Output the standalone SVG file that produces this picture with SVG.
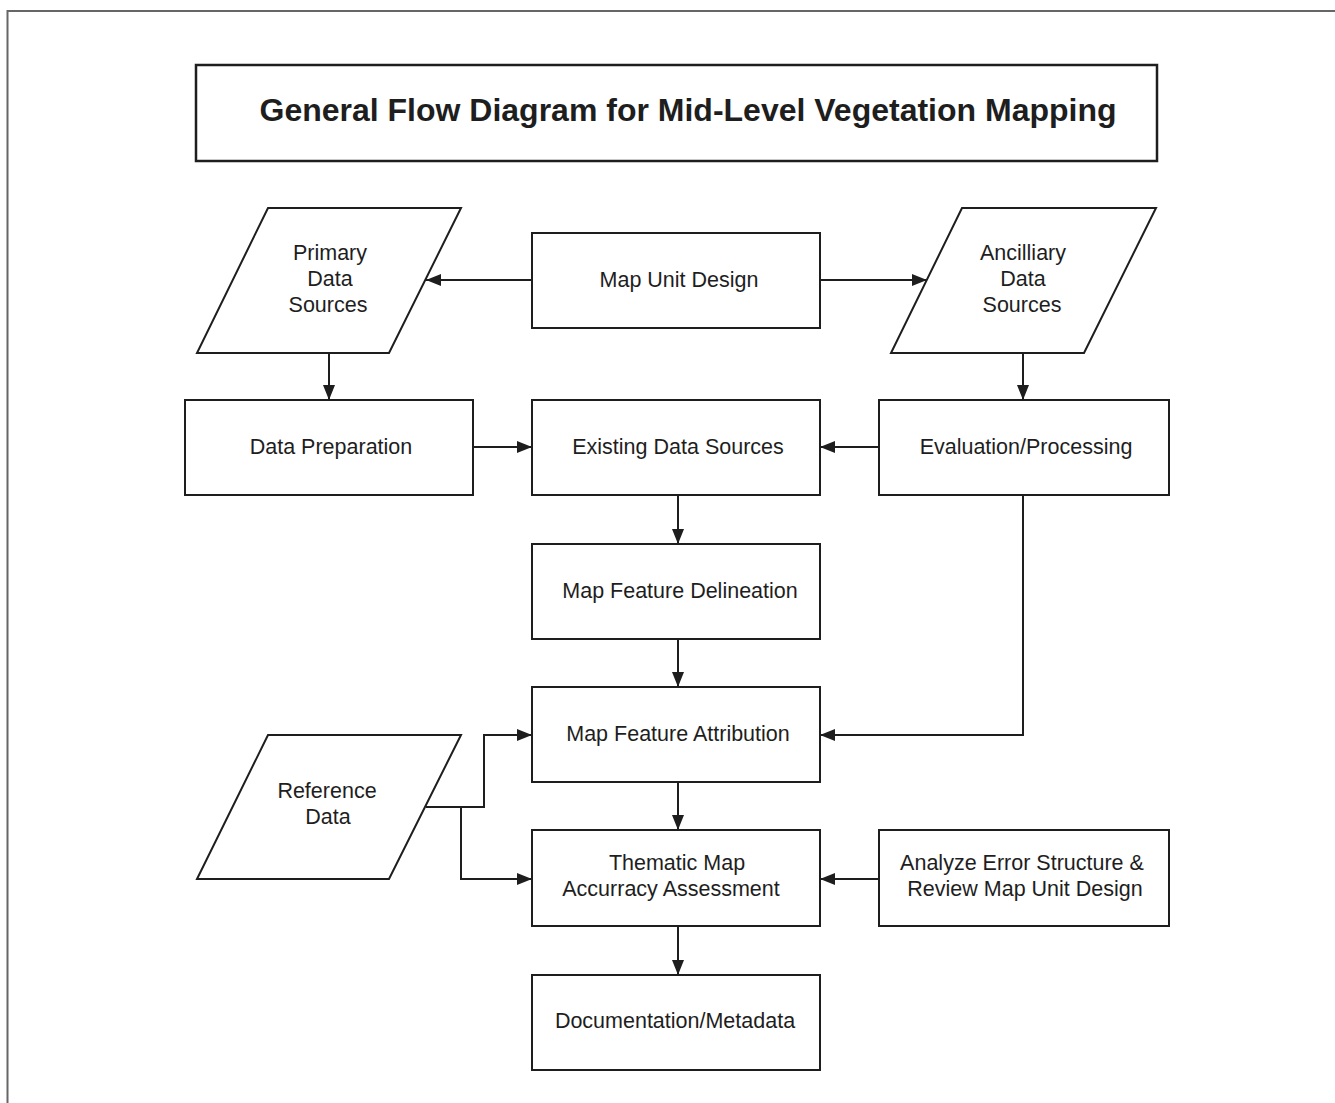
<svg xmlns="http://www.w3.org/2000/svg" width="1335" height="1103" viewBox="0 0 1335 1103">
  <style>
    .box { fill: #fff; stroke: #1e1e1e; stroke-width: 2; }
    .title-box { fill: #fff; stroke: #1e1e1e; stroke-width: 2.5; }
    .lbl { font-family: "Liberation Sans", Arial, sans-serif; font-size: 21.5px; fill: #1e1e1e; text-anchor: middle; }
    .title { font-family: "Liberation Sans", Arial, sans-serif; font-size: 32px; font-weight: bold; fill: #1e1e1e; text-anchor: middle; }
    .conn { fill: none; stroke: #1e1e1e; stroke-width: 2; marker-end: url(#arrow); }
    .plain { fill: none; stroke: #1e1e1e; stroke-width: 2; }
  </style>
  <defs>
    <marker id="arrow" markerUnits="userSpaceOnUse" markerWidth="16" markerHeight="12" refX="15" refY="6" orient="auto">
      <path d="M0,0 L15,6 L0,12 z" fill="#1e1e1e"/>
    </marker>
  </defs>

  <rect width="1335" height="1103" fill="#fff"/>

  <!-- page frame -->
  <path d="M7.5,1103 L7.5,11 L1335,11" fill="none" stroke="#666" stroke-width="2"/>

  <g id="title">
    <rect class="title-box" x="196" y="65" width="961" height="96"/>
    <text class="title" x="688" y="121">General Flow Diagram for Mid-Level Vegetation Mapping</text>
  </g>

  <g id="connectors">
    <path class="conn" d="M532,280 L426,280"/>
    <path class="conn" d="M820,280 L927,280"/>
    <path class="conn" d="M329,353 L329,400"/>
    <path class="conn" d="M1023,353 L1023,400"/>
    <path class="conn" d="M473,447 L532,447"/>
    <path class="conn" d="M879,447 L820,447"/>
    <path class="conn" d="M678,495 L678,544"/>
    <path class="conn" d="M678,639 L678,687"/>
    <path class="conn" d="M1023,495 L1023,735 L820,735"/>
    <path class="conn" d="M426,807 L484,807 L484,735 L532,735"/>
    <path class="conn" d="M461,807 L461,879 L532,879"/>
    <path class="conn" d="M678,782 L678,830"/>
    <path class="conn" d="M879,879 L820,879"/>
    <path class="conn" d="M678,926 L678,975"/>
  </g>

  <g id="primary-data-sources">
    <polygon class="box" points="268,208 461,208 389,353 197,353"/>
    <text class="lbl" x="330" y="260">Primary</text>
    <text class="lbl" x="330" y="286">Data</text>
    <text class="lbl" x="328" y="312">Sources</text>
  </g>

  <g id="map-unit-design">
    <rect class="box" x="532" y="233" width="288" height="95"/>
    <text class="lbl" x="679" y="287">Map Unit Design</text>
  </g>

  <g id="ancilliary-data-sources">
    <polygon class="box" points="962,208 1156,208 1084,353 891,353"/>
    <text class="lbl" x="1023" y="260">Ancilliary</text>
    <text class="lbl" x="1023" y="286">Data</text>
    <text class="lbl" x="1022" y="312">Sources</text>
  </g>

  <g id="data-preparation">
    <rect class="box" x="185" y="400" width="288" height="95"/>
    <text class="lbl" x="331" y="454">Data Preparation</text>
  </g>

  <g id="existing-data-sources">
    <rect class="box" x="532" y="400" width="288" height="95"/>
    <text class="lbl" x="678" y="454">Existing Data Sources</text>
  </g>

  <g id="evaluation-processing">
    <rect class="box" x="879" y="400" width="290" height="95"/>
    <text class="lbl" x="1026" y="454">Evaluation/Processing</text>
  </g>

  <g id="map-feature-delineation">
    <rect class="box" x="532" y="544" width="288" height="95"/>
    <text class="lbl" x="680" y="598">Map Feature Delineation</text>
  </g>

  <g id="map-feature-attribution">
    <rect class="box" x="532" y="687" width="288" height="95"/>
    <text class="lbl" x="678" y="741">Map Feature Attribution</text>
  </g>

  <g id="reference-data">
    <polygon class="box" points="268,735 461,735 389,879 197,879"/>
    <text class="lbl" x="327" y="798">Reference</text>
    <text class="lbl" x="328" y="824">Data</text>
  </g>

  <g id="thematic-map-accuracy">
    <rect class="box" x="532" y="830" width="288" height="96"/>
    <text class="lbl" x="677" y="870">Thematic Map</text>
    <text class="lbl" x="671" y="896">Accurracy Assessment</text>
  </g>

  <g id="analyze-error-structure">
    <rect class="box" x="879" y="830" width="290" height="96"/>
    <text class="lbl" x="1022" y="870">Analyze Error Structure &amp;</text>
    <text class="lbl" x="1025" y="896">Review Map Unit Design</text>
  </g>

  <g id="documentation-metadata">
    <rect class="box" x="532" y="975" width="288" height="95"/>
    <text class="lbl" x="675" y="1028">Documentation/Metadata</text>
  </g>
</svg>
